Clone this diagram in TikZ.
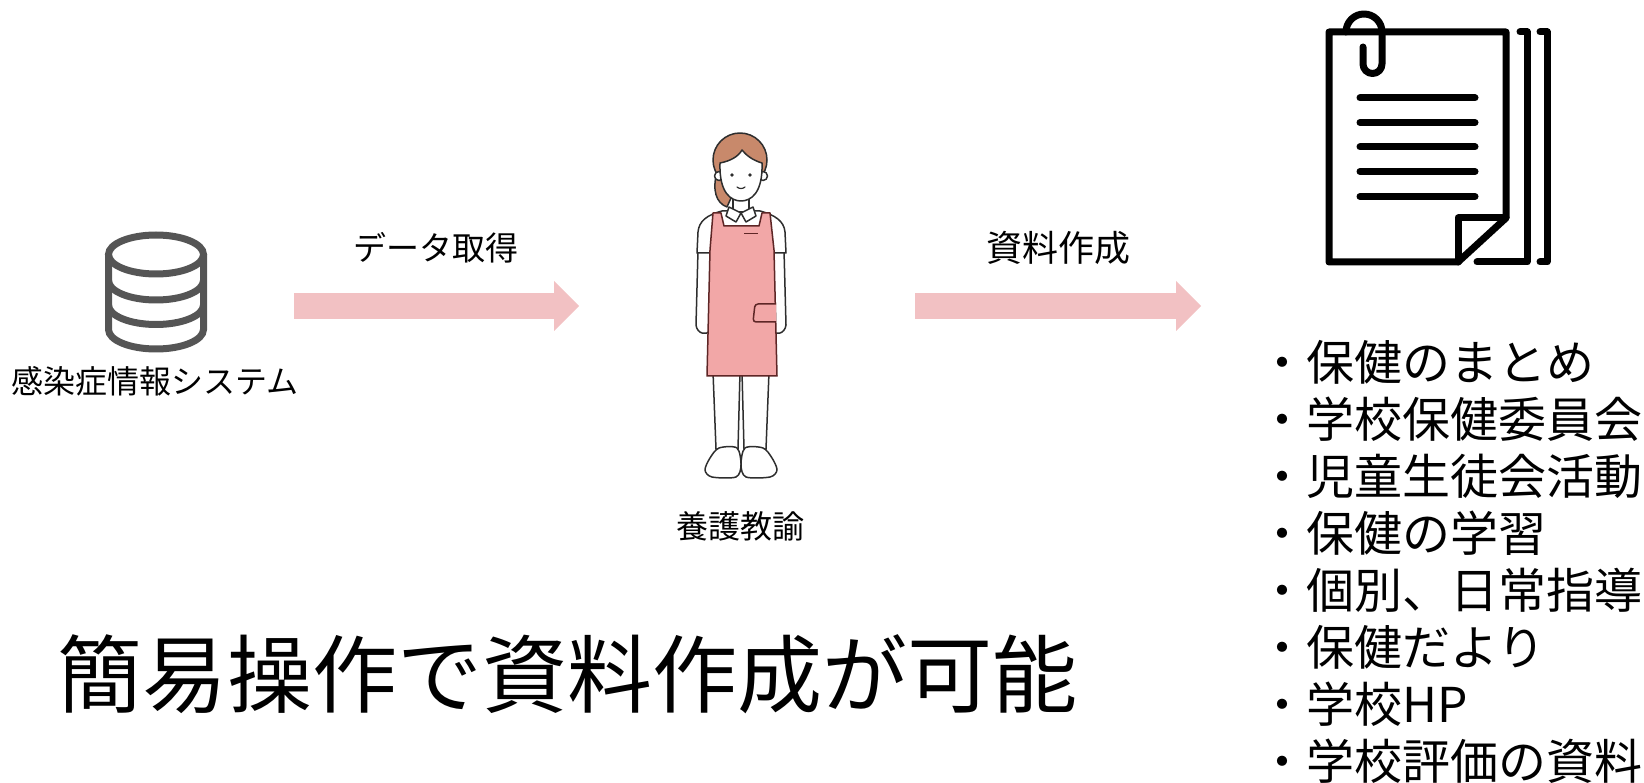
\documentclass[tikz,border=0pt]{standalone}
\usepackage{fontspec}
\setmainfont{Noto Sans CJK JP}
\usetikzlibrary{arrows.meta}

\definecolor{dbgray}{HTML}{555555}
\definecolor{flowpink}{HTML}{F2C1C3}
\definecolor{apronfill}{HTML}{F2A7A7}
\definecolor{apronline}{HTML}{5E2626}
\definecolor{hairfill}{HTML}{C8896B}
\definecolor{inkline}{HTML}{2E2E2E}

\begin{document}
\begin{tikzpicture}[x=1pt,y=-1pt,
  lbl/.style={inner sep=0pt, font=\fontsize{32}{36}\selectfont},
  listitem/.style={inner sep=0pt, anchor=west, font=\fontsize{48}{52}\selectfont},
  flow/.style={flowpink, line width=26pt, -{Triangle[length=25pt,width=50pt,line width=0pt]}},
  dbline/.style={dbgray, line width=7pt},
  docline/.style={black, line width=7pt, line cap=round, line join=round},
  outline/.style={inkline, line width=1.5pt, line join=round},
  apronstroke/.style={apronline, line width=1.5pt, line join=round},
]
\useasboundingbox (0,0) rectangle (1644,783);

% ---------- database icon ----------
\draw[dbline] (156,254.5) ellipse [x radius=47.5, y radius=19.5];
\draw[dbline] (108.5,254.5) -- (108.5,329.5)
  arc[start angle=180, end angle=0, x radius=47.5, y radius=19.5] -- (203.5,254.5);
\draw[dbline] (108.5,280.5) arc[start angle=180, end angle=0, x radius=47.5, y radius=19.5];
\draw[dbline] (108.5,305) arc[start angle=180, end angle=0, x radius=47.5, y radius=19.5];
\node[lbl] (system) at (155,381) {感染症情報システム};

% ---------- flow arrows ----------
\coordinate (getstart) at (294,306);
\coordinate (getend) at (579,306);
\draw[flow] (getstart) -- (getend);
\node[lbl, font=\fontsize{33}{36}\selectfont] (getlabel) at (436,248) {データ取得};

\coordinate (makestart) at (915,306);
\coordinate (makeend) at (1201,306);
\draw[flow] (makestart) -- (makeend);
\node[lbl, font=\fontsize{36}{40}\selectfont] (makelabel) at (1058,248) {資料作成};

% ---------- school nurse figure ----------
% back hair
\draw[outline, fill=hairfill] (717,172) .. controls (712,190) and (716,203) .. (727,207)
  -- (731,198) -- (722,172) -- cycle;
% arms
\draw[outline, fill=white] (698,250) -- (696,325) .. controls (697,334) and (707,336) .. (710,330) -- (711,250);
\draw[outline, fill=white] (784,250) -- (786,325) .. controls (785,334) and (775,336) .. (772,330) -- (771,250);
% trousers
\draw[outline, fill=white] (713,372) -- (716,449) -- (738,449) -- (740,372) -- cycle;
\draw[outline, fill=white] (742,372) -- (744,449) -- (766,449) -- (769,372) -- cycle;
% shoes
\draw[outline, fill=white] plot[smooth cycle] coordinates
  {(719,448) (737,448) (741,465) (736,477) (712,477) (705,470) (710,458)};
\draw[outline, fill=white] plot[smooth cycle] coordinates
  {(763,448) (745,448) (741,465) (746,477) (770,477) (777,470) (772,458)};
% shirt with sleeves
\draw[outline, fill=white] (697,253) -- (698,232) .. controls (699,221) and (707,215) .. (722,211)
  -- (760,211) .. controls (775,215) and (784,221) .. (785,232) -- (786,253) -- cycle;
% neck and collar
\draw[outline, fill=white] (733,196) rectangle (749,212);
\draw[outline, fill=white] (729,207) -- (741,213) -- (736,222) -- (726,216) -- cycle;
\draw[outline, fill=white] (753,207) -- (741,213) -- (746,222) -- (756,216) -- cycle;
% apron
\draw[apronstroke, fill=apronfill] (713,213) -- (721,213) -- (724,226) -- (759,226) -- (762,213)
  -- (770,213) -- (774,250) -- (777,376) -- (707,376) -- (710,250) -- cycle;
\draw[apronline, line width=0.8pt] (744,233) -- (758,233);
\draw[apronstroke, fill=apronfill, rounded corners=3pt] (776,304) -- (755,304) -- (753,322) -- (776,322);
% head
\draw[outline, fill=hairfill] (740,160) circle [radius=27];
\draw[outline, fill=white] (719,176) circle [radius=4.5];
\draw[outline, fill=white] (763,176) circle [radius=4.5];
\draw[outline, fill=white] (720,163) .. controls (719,193) and (731,201) .. (741,201)
  .. controls (751,201) and (763,193) .. (762,163)
  .. controls (752,160) and (746,155) .. (742,150)
  .. controls (738,157) and (730,161) .. (720,163) -- cycle;
\fill[inkline] (732,175) circle [radius=1.8];
\fill[inkline] (750,175) circle [radius=1.8];
\draw[inkline, line width=1.2pt, line cap=round] (737,187) .. controls (739,189) and (743,189) .. (745,187);
\node[lbl] (nurse) at (740,526) {養護教諭};

% ---------- document icon ----------
\draw[docline] (1458,262) -- (1329,262) -- (1329,32) -- (1506,32) -- (1506,218) -- cycle;
\draw[docline] (1506,218) -- (1458,218) -- (1458,262);
\draw[docline] (1520,32) -- (1527,32) -- (1527,262) -- (1477,262);
\draw[docline] (1540,32) -- (1547,32) -- (1547,262) -- (1540,262);
\draw[docline] (1346,32) arc[start angle=180, end angle=360, radius=18]
  -- (1382,64) arc[start angle=0, end angle=180, radius=9.5] -- (1363,47);
\foreach \ly in {98,122.5,147,171.5,196.5}
  \draw[docline] (1360,\ly) -- (1475,\ly);

% ---------- list of outputs ----------
\foreach \t [count=\i] in {保健のまとめ,学校保健委員会,児童生徒会活動,保健の学習,個別、日常指導,保健だより,学校HP,学校評価の資料}
  \node[listitem] (item\i) at (1258,{362+57*(\i-1)}) {・\t};

% ---------- headline ----------
\node[inner sep=0pt, anchor=west, font=\fontsize{85}{90}\selectfont] (claim) at (57,674) {簡易操作で資料作成が可能};
\end{tikzpicture}
\end{document}
